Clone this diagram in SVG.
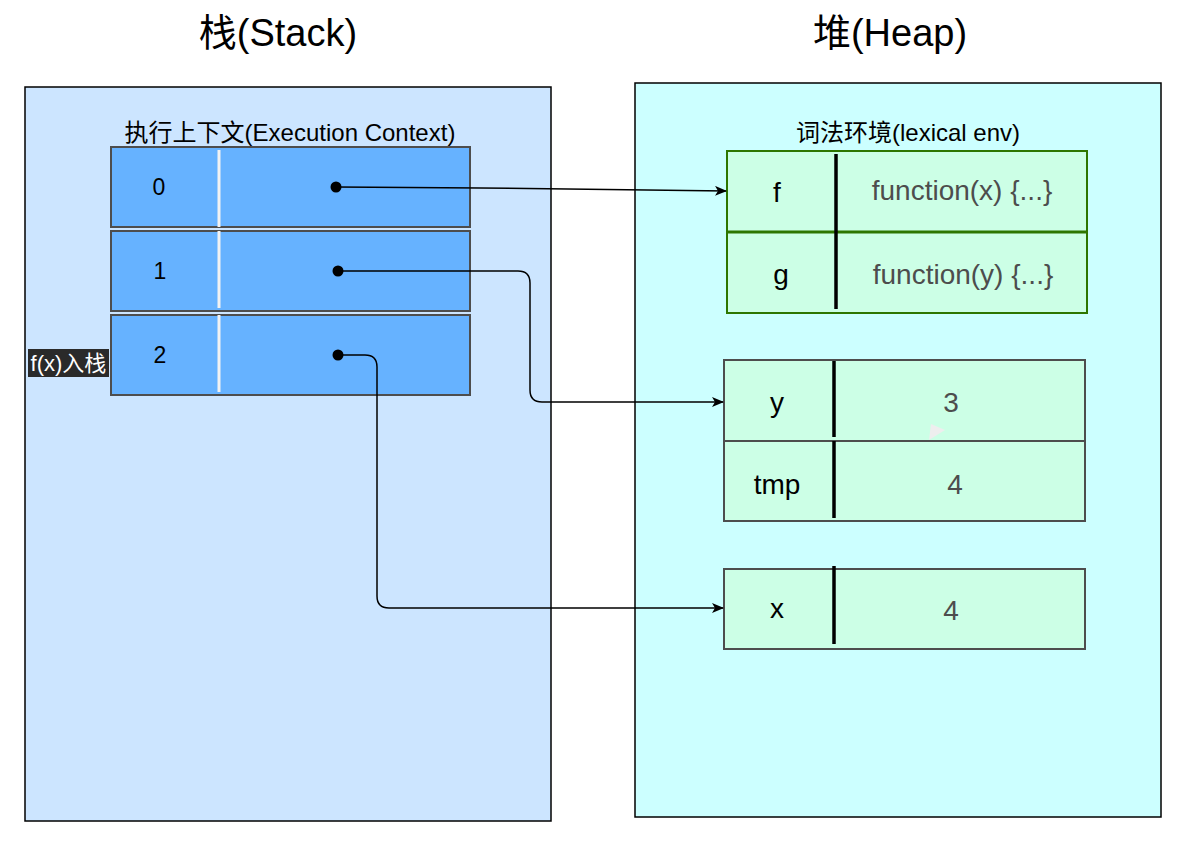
<svg xmlns="http://www.w3.org/2000/svg" width="1182" height="844" viewBox="0 0 1182 844">
<defs>
<marker id="arr" markerWidth="12" markerHeight="10" refX="11" refY="5" orient="auto" markerUnits="userSpaceOnUse">
<path d="M0,0 L12,5 L0,10 L3,5 Z" fill="#000"/>
</marker>
</defs>
<style>
text{font-family:"Liberation Sans",Arial,"Noto Sans CJK SC",sans-serif;dominant-baseline:central;text-anchor:middle}
.title{font-size:38px;fill:#000}
.cap{font-size:24px;fill:#000}
.row{fill:#66b2ff;stroke:#4d4d4d;stroke-width:2}
.wdiv{stroke:#f2f2f2;stroke-width:3}
.num{font-size:23px;fill:#000}
.cell{fill:#ccffe6;stroke:#4d4d4d;stroke-width:2}
.gcell{fill:#ccffe6;stroke:#2d7600;stroke-width:2}
.bdiv{stroke:#000;stroke-width:3.5}
.key{font-size:28px;fill:#000}
.val{font-size:28px;fill:#4d4d4d}
.conn{fill:none;stroke:#000;stroke-width:1.5}
</style>
<rect width="1182" height="844" fill="#fff"/>
<text class="title" x="278" y="33">栈(Stack)</text>
<text class="title" x="890" y="33">堆(Heap)</text>
<g id="stack">
<rect x="25" y="87" width="526" height="734" fill="#cce5ff" stroke="#000" stroke-width="1.5"/>
<text class="cap" x="290" y="132">执行上下文(Execution Context)</text>
</g>
<g id="heap">
<rect x="635" y="83" width="526" height="734" fill="#ccffff" stroke="#000" stroke-width="1.5"/>
<text class="cap" x="908" y="132">词法环境(lexical env)</text>
</g>
<g id="ec0">
<rect class="row" x="111" y="147" width="359" height="80"/>
<line class="wdiv" x1="219" y1="150" x2="219" y2="227"/>
<text class="num" x="159" y="187">0</text>
</g>
<g id="ec1">
<rect class="row" x="111" y="231" width="359" height="80"/>
<line class="wdiv" x1="219" y1="231" x2="219" y2="308"/>
<text class="num" x="160" y="271">1</text>
</g>
<g id="ec2">
<rect class="row" x="111" y="315" width="359" height="80"/>
<line class="wdiv" x1="219" y1="315" x2="219" y2="392"/>
<text class="num" x="160" y="355">2</text>
</g>
<g id="push-label">
<rect x="28" y="349" width="81" height="28" fill="#2a2a2a"/>
<text x="68.5" y="363" font-size="22" fill="#fff">f(x)入栈</text>
</g>
<g id="lexenv">
<rect class="gcell" x="727" y="151" width="360" height="162"/>
<line x1="727" y1="232" x2="1087" y2="232" stroke="#2d7600" stroke-width="3"/>
<line class="bdiv" x1="836" y1="154" x2="836" y2="309"/>
<text class="key" x="777" y="192">f</text>
<text class="val" x="962" y="190">function(x) {...}</text>
<text class="key" x="781" y="274">g</text>
<text class="val" x="963" y="274">function(y) {...}</text>
</g>
<g id="env-y">
<rect class="cell" x="724" y="360" width="361" height="161"/>
<line x1="724" y1="441" x2="1085" y2="441" stroke="#4d4d4d" stroke-width="2"/>
<line class="bdiv" x1="834" y1="361" x2="834" y2="437"/>
<line class="bdiv" x1="834" y1="441" x2="834" y2="518"/>
<text class="key" x="777" y="402">y</text>
<text class="val" x="951" y="402">3</text>
<text class="key" x="777" y="484">tmp</text>
<text class="val" x="955" y="484">4</text>
<path d="M929,440 L931,424 L945,430 Z" fill="#eeeeee"/>
</g>
<g id="env-x">
<rect class="cell" x="724" y="569" width="361" height="80"/>
<line class="bdiv" x1="834" y1="566" x2="834" y2="644"/>
<text class="key" x="777" y="608">x</text>
<text class="val" x="951" y="610">4</text>
</g>
<g id="connectors">
<circle cx="336" cy="187" r="5.5" fill="#000"/>
<circle cx="338" cy="271" r="5.5" fill="#000"/>
<circle cx="338" cy="355" r="5.5" fill="#000"/>
<path class="conn" d="M336,187 L480,188 L726,191" marker-end="url(#arr)"/>
<path class="conn" d="M338,271 L518,271 Q530,271 530,283 L530,390 Q530,402 542,402 L723,402" marker-end="url(#arr)"/>
<path class="conn" d="M338,355 L365,355 Q377,355 377,367 L377,596 Q377,608 389,608 L723,608" marker-end="url(#arr)"/>
</g>
</svg>
